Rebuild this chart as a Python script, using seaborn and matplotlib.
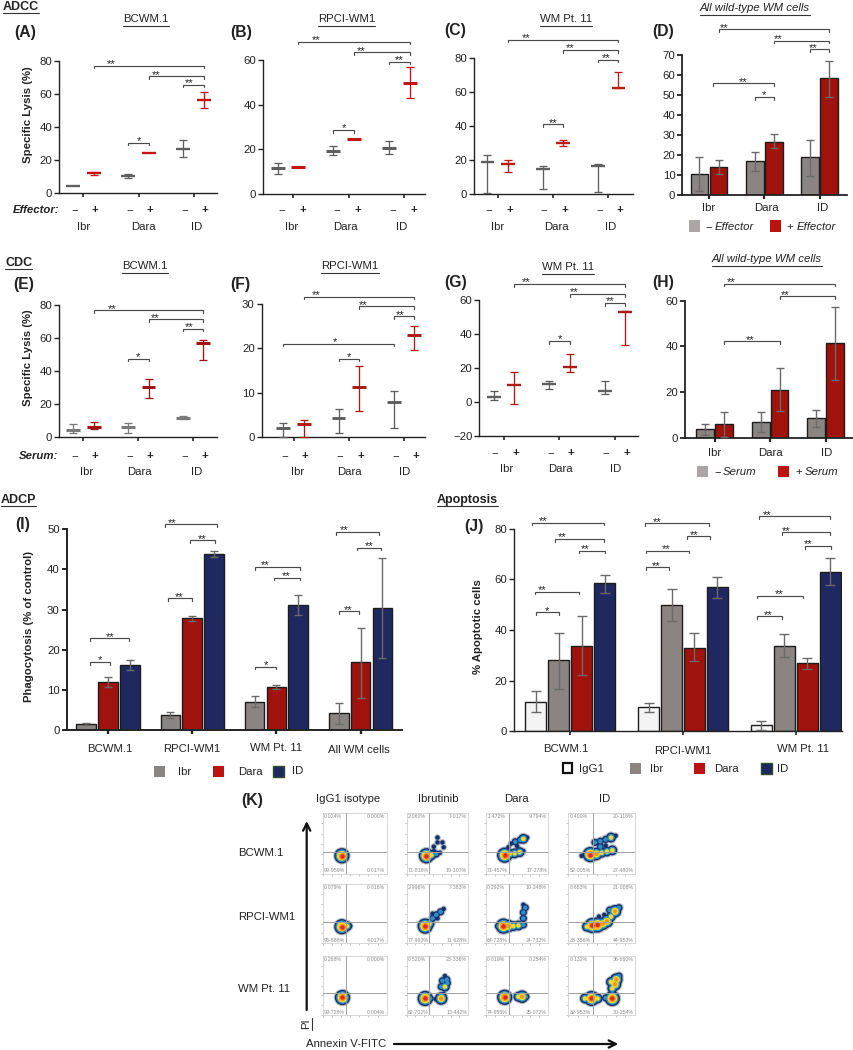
import numpy as np
import pandas as pd
import matplotlib
matplotlib.use("Agg")
import matplotlib.pyplot as plt
from matplotlib.lines import Line2D
from matplotlib.patches import Rectangle, FancyArrowPatch
import seaborn as sns

# ---------- data ----------
GROUPS = ["Ibr", "Dara", "ID"]
SIGN = ["−", "+"]

A_MEAN = [4.0, 12.1, 10.3, 24.2, 26.7, 56.0]
A_LOW = [4.0, 11.0, 9.0, 24.2, 21.8, 51.5]
A_HIGH = [4.0, 12.5, 11.5, 24.2, 32.0, 61.0]
B_MEAN = [11.4, 12.1, 19.2, 24.7, 20.5, 49.9]
B_LOW = [8.8, 12.1, 17.2, 24.7, 17.7, 43.1]
B_HIGH = [13.8, 12.1, 21.4, 24.7, 23.7, 56.7]
C_MEAN = [18.9, 17.5, 14.3, 29.7, 16.3, 62.1]
C_LOW = [0.4, 12.6, 2.9, 28.1, 1.2, 62.1]
C_HIGH = [22.6, 19.6, 16.5, 31.8, 17.7, 71.7]
D_MEAN = [10.5, 14.2, 16.9, 26.7, 18.9, 58.6]
D_LOW = [2.2, 10.5, 12.0, 23.7, 9.4, 49.1]
D_HIGH = [18.9, 17.4, 21.5, 30.4, 27.7, 67.3]
E_MEAN = [3.8, 6.0, 5.7, 30.4, 11.3, 56.7]
E_LOW = [2.4, 4.7, 2.4, 23.3, 10.5, 46.6]
E_HIGH = [7.5, 8.7, 8.5, 34.8, 12.3, 58.7]
F_MEAN = [2.2, 3.0, 4.35, 11.4, 8.0, 23.0]
F_LOW = [0.0, 0.1, 1.05, 5.9, 2.2, 19.7]
F_HIGH = [3.15, 3.8, 6.45, 16.0, 10.4, 25.1]
G_MEAN = [2.9, 9.6, 10.2, 20.6, 6.1, 53.0]
G_LOW = [1.0, -1.2, 7.5, 17.3, 4.3, 33.2]
G_HIGH = [6.3, 17.3, 12.4, 28.3, 12.4, 53.4]
H_MEAN = [3.8, 6.0, 6.8, 21.0, 8.7, 41.4]
H_LOW = [1.3, 0.4, 2.8, 11.8, 5.0, 25.3]
H_HIGH = [6.0, 11.4, 11.4, 30.6, 12.4, 57.4]

CELLS_I = ["BCWM.1", "RPCI-WM1", "WM Pt. 11", "All WM cells"]
TREAT_I = ["Ibr", "Dara", "ID"]
I_MEAN = [1.66, 12.0, 16.1, 3.7, 27.8, 43.9, 7.1, 10.7, 31.1, 4.2, 17.0, 30.4]
I_LOW = [1.3, 10.7, 15.1, 3.0, 27.2, 43.0, 5.9, 10.2, 28.6, 1.66, 8.1, 17.9]
I_HIGH = [1.75, 13.3, 17.5, 4.55, 28.5, 44.5, 8.4, 11.3, 33.7, 6.9, 25.5, 42.8]

CELLS_J = ["BCWM.1", "RPCI-WM1", "WM Pt. 11"]
TREAT_J = ["IgG1", "Ibr", "Dara", "ID"]
J_MEAN = [11.7, 28.2, 33.8, 58.4, 9.6, 49.9, 33.0, 56.8, 2.6, 33.8, 26.8, 63.0]
J_LOW = [7.5, 16.8, 22.2, 54.7, 7.6, 43.7, 27.6, 52.8, 0.5, 29.2, 24.7, 57.6]
J_HIGH = [15.8, 38.8, 45.4, 61.8, 11.3, 56.0, 38.8, 60.9, 4.2, 38.4, 28.9, 68.4]

# brackets: first mark index, last mark index, height in data units, stars, star place along bracket
A_BR = [(1, 5, 77, "**", .16), (3, 5, 70.5, "**", .13), (4, 5, 65.4, "**", .28), (2, 3, 30.4, "*", .5)]
B_BR = [(1, 5, 68.3, "**", .16), (3, 5, 63.5, "**", .12), (4, 5, 59.3, "**", .5), (2, 3, 28.6, "*", .5)]
C_BR = [(1, 5, 90.8, "**", .16), (3, 5, 84.7, "**", .12), (4, 5, 79, "**", .38), (2, 3, 41, "**", .5)]
D_BR = [(1, 5, 83, "**", .05), (3, 5, 77.3, "**", .08), (4, 5, 73, "**", .18), (.72, 3, 56, "**", .49), (2, 3, 49.1, "*", .5)]
E_BR = [(1, 5, 76.9, "**", .17), (3, 5, 71.3, "**", .13), (4, 5, 65.6, "**", .3), (2, 3, 47.4, "*", .5)]
F_BR = [(1, 5, 31.65, "**", .11), (3, 5, 29.5, "**", .07), (4, 5, 27.2, "**", .3), (0, 4, 21.1, "*", .47), (2, 3, 17.7, "*", .5)]
G_BR = [(1, 5, 69.5, "**", .11), (3, 5, 63.5, "**", .07), (4, 5, 58.3, "**", .26), (2, 3, 35.8, "*", .5)]
H_BR = [(1, 5, 67.4, "**", .06), (3, 5, 61.9, "**", .1), (1, 3, 42.2, "**", .47)]
I_BR = [(.16, 1.97, 22.9, "**", .52), (.16, 1.07, 17, "*", .52),
        (2.87, 5.07, 51.2, "**", .14), (3.89, 5.02, 47.2, "**", .48), (2.93, 4.0, 32.8, "**", .49),
        (6.04, 8.05, 40.6, "**", .22), (6.88, 8.05, 37.9, "**", .47), (6.04, 7.0, 15.8, "*", .48),
        (8.94, 10.86, 49.3, "**", .19), (9.85, 10.94, 45.4, "**", .5), (9.0, 9.94, 29.6, "**", .48)]
J_BR = [(-.16, 2.96, 82.4, "**", .15), (.83, 2.96, 76, "**", .15), (1.87, 3.0, 71.3, "**", .23),
        (-.01, 1.87, 55.1, "**", .16), (0, 1, 47, "*", .48),
        (3.92, 6.62, 82.1, "**", .19), (5.68, 6.68, 77, "**", .32), (3.95, 5.74, 71.3, "**", .46), (3.95, 4.9, 64.7, "**", .44),
        (7.95, 10.99, 84.9, "**", .12), (8.9, 10.99, 78.6, "**", .09), (9.91, 11.01, 73.2, "**", .1),
        (7.9, 9.81, 53.6, "**", .48), (7.9, 8.9, 45.4, "**", .44)]

K_COLS = ["IgG1 isotype", "Ibrutinib", "Dara", "ID"]
K_ROWS = ["BCWM.1", "RPCI-WM1", "WM Pt. 11"]
K_PCT = [
    [("0·024%", "0·000%", "99·959%", "0·017%"), ("2·060%", "7·017%", "71·816%", "19·107%"),
     ("1·472%", "9·794%", "71·457%", "17·278%"), ("0·400%", "20·116%", "52·005%", "27·480%")],
    [("0·079%", "0·016%", "95·888%", "4·017%"), ("2·996%", "7·383%", "77·993%", "11·628%"),
     ("0·292%", "10·248%", "64·728%", "24·732%"), ("0·683%", "21·008%", "33·356%", "44·953%")],
    [("0·268%", "0·000%", "99·728%", "0·004%"), ("0·520%", "23·336%", "62·702%", "13·442%"),
     ("0·019%", "0·254%", "74·655%", "25·072%"), ("0·132%", "36·660%", "32·953%", "30·254%")],
]
# density clusters: u, v, density level 1-5
K_BLOBS = [
    [[(.30, .30, 5), (.27, .28, 3)],
     [(.32, .30, 5), (.40, .31, 3), (.48, .33, 2), (.54, .35, 1), (.44, .45, 1), (.50, .52, 1), (.58, .52, 1), (.50, .60, 1), (.60, .44, 1), (.44, .38, 1)],
     [(.30, .31, 5), (.38, .33, 3), (.46, .34, 3), (.54, .36, 3), (.60, .38, 1), (.40, .50, 1), (.47, .53, 2), (.55, .56, 2), (.60, .58, 3), (.66, .60, 1), (.36, .44, 1), (.50, .46, 1)],
     [(.33, .32, 5), (.42, .33, 4), (.50, .35, 3), (.58, .37, 3), (.66, .39, 3), (.40, .52, 2), (.48, .54, 2), (.56, .57, 2), (.64, .60, 3), (.71, .63, 1), (.48, .45, 2), (.56, .47, 1), (.20, .30, 1)]],
    [[(.30, .28, 5), (.38, .29, 3), (.43, .29, 1), (.30, .2, 1)],
     [(.30, .29, 5), (.37, .33, 3), (.42, .42, 2), (.48, .48, 2), (.55, .53, 2), (.60, .58, 1), (.38, .27, 1), (.50, .42, 1), (.42, .50, 1)],
     [(.28, .29, 5), (.36, .29, 4), (.44, .29, 3), (.52, .30, 3), (.60, .31, 2), (.60, .42, 2), (.60, .52, 2), (.63, .60, 2), (.60, .65, 1), (.20, .29, 2)],
     [(.28, .28, 3), (.36, .30, 5), (.44, .31, 5), (.52, .33, 4), (.58, .37, 4), (.64, .45, 3), (.70, .54, 4), (.76, .60, 2), (.46, .45, 1), (.54, .48, 1), (.62, .56, 2), (.56, .42, 2)]],
    [[(.30, .30, 5)],
     [(.30, .28, 5), (.38, .28, 2), (.47, .27, 1), (.56, .28, 4), (.60, .36, 1), (.56, .48, 2), (.62, .48, 3), (.58, .58, 2), (.65, .60, 2), (.62, .66, 1), (.66, .54, 2)],
     [(.30, .30, 5), (.52, .31, 3), (.58, .31, 4), (.64, .31, 2)],
     [(.25, .28, 3), (.35, .28, 5), (.44, .28, 3), (.56, .29, 2), (.66, .28, 5), (.66, .45, 3), (.70, .52, 4), (.72, .60, 4), (.76, .66, 2), (.64, .56, 3)]],
]

# ---------- style ----------
W, H = 854, 1050
sns.set_theme(style="ticks")
plt.rcParams["font.family"] = ["Liberation Sans", "DejaVu Sans"]
plt.rcParams["text.color"] = "#222222"
plt.rcParams["xtick.color"] = "#222222"
plt.rcParams["ytick.color"] = "#222222"
plt.rcParams["axes.edgecolor"] = "#222222"
GREY, RED, NAVY = "#8a8583", "#a0120c", "#20295f"
FS = 8.2
HEAD = 9.0
fig = plt.figure(figsize=(W / 100, H / 100), dpi=100, facecolor="white")
renderer = fig.canvas.get_renderer()


def T(x, y, s, ha="center", va="center", size=FS, rot=0, **kw):
    return fig.text(x / W, 1 - y / H, s, ha=ha, va=va, fontsize=size, rotation=rot, **kw)


def UT(x, y, s, drop=6.5, **kw):
    t = T(x, y, s, **kw)
    bb = t.get_window_extent(renderer)
    yy = (y + drop)
    fig.add_artist(Line2D([bb.x0 / W, bb.x1 / W], [1 - yy / H, 1 - yy / H], transform=fig.transFigure,
                          color="#333333", lw=0.8))
    return t


def make_axes(left, right, top, bot, x0, step, ticks, spine_lw=1.0):
    ax = fig.add_axes([left / W, 1 - bot / H, (right - left) / W, (bot - top) / H])
    ax.patch.set_alpha(0)
    ax._fig_scale = (bot - top) / (ticks[-1] - ticks[0])
    ax._lims = ((left - x0) / step, (right - x0) / step, ticks[0], ticks[-1])
    ax._spine_lw = spine_lw
    return ax


def finish(ax, ticks, tick_pos, ylabels=None, size=FS):
    ax.set_xlim(ax._lims[0], ax._lims[1])
    ax.set_ylim(ax._lims[2], ax._lims[3])
    ax.set_yticks(ticks)
    ax.set_yticklabels(ylabels if ylabels else [str(t).replace("-", "−") for t in ticks], fontsize=size)
    ax.set_xticks(tick_pos)
    ax.set_xticklabels([])
    ax.set_xlabel("")
    ax.set_ylabel("")
    ax.tick_params(axis="y", length=3.5, width=ax._spine_lw, pad=1.5)
    ax.tick_params(axis="x", length=2.8, width=ax._spine_lw * 1.2)
    sns.despine(ax=ax)
    for side in ("left", "bottom"):
        ax.spines[side].set_linewidth(ax._spine_lw)


def brackets(ax, marks, items, drop_px=2.7):
    marks = np.asarray(marks, float)
    n = len(marks)

    def pos(i):
        k = int(np.clip(np.floor(i), 0, n - 2))
        return marks[k] + (i - k) * (marks[k + 1] - marks[k])

    d = drop_px / ax._fig_scale
    for i, j, y, star, frac in items:
        a, b = pos(i), pos(j)
        ax.plot([a, a, b, b], [y - d, y, y, y - d], color="#4a4a4a", lw=0.85, clip_on=False,
                solid_joinstyle="miter", zorder=5)
        ax.annotate(star, xy=(a + (b - a) * frac, y), xytext=(0, -1.5), textcoords="offset pixels",
                    ha="center", va="baseline", fontsize=8, color="#222222", annotation_clip=False)


def errs(ax, xs, mean, low, high, colors, cap, lw):
    for x, m, lo, hi, c in zip(xs, mean, low, high, colors):
        if lo == hi:
            continue
        ax.errorbar([x], [m], yerr=[[m - lo], [hi - m]], fmt="none", ecolor=c, elinewidth=lw, capsize=cap,
                    capthick=lw, clip_on=False, zorder=4)


def mean_panel(box, x0, step, off, ticks, mean, low, high, reds, items, group_x, label_y, pm_y, pm_shift=1.5,
               tick_shift=0, mean_lw=1.8, grey="#5f5f5f"):
    left, right, top, bot = box
    ax = make_axes(left, right, top, bot, x0, step, ticks)
    o = off / step
    xs = [g + s * o for g in range(3) for s in (-1, 1)]
    df = pd.DataFrame({"x": xs, "y": mean, "kind": ["−", "+"] * 3})
    sns.scatterplot(data=df, x="x", y="y", hue="kind", palette={"−": grey, "+": reds}, marker="_", s=100,
                    linewidth=mean_lw, legend=False, ax=ax, clip_on=False, zorder=5)
    errs(ax, xs, mean, low, high, [grey, reds] * 3, 2.6, 0.95)
    finish(ax, ticks, [g + tick_shift / step for g in range(3)])
    brackets(ax, xs, items)
    for i, x in enumerate(xs):
        T(x0 + x * step + pm_shift, pm_y, SIGN[i % 2], weight="bold" if i % 2 else "normal")
    for g, gx in zip(GROUPS, group_x):
        T(gx, label_y, g)
    return ax


def bar_panel(box, x0, step, ticks, cats, treats, mean, low, high, palette, width, gap, items, cap=3.0, elw=1.0,
              spine_lw=1.3, edge="#1c1c1c"):
    left, right, top, bot = box
    ax = make_axes(left, right, top, bot, x0, step, ticks, spine_lw)
    n_t = len(treats)
    df = pd.DataFrame({"cell": [c for c in cats for _ in treats], "treat": list(treats) * len(cats), "v": mean})
    sns.barplot(data=df, x="cell", y="v", hue="treat", order=cats, hue_order=treats, palette=palette, width=width,
                gap=gap, errorbar=None, edgecolor=edge, linewidth=1.0, legend=False, ax=ax, zorder=2, saturation=1)
    centres = np.zeros(len(mean))
    for h, cont in enumerate(ax.containers):
        for g, patch in enumerate(cont.patches):
            centres[g * n_t + h] = patch.get_x() + patch.get_width() / 2
    errs(ax, centres, mean, low, high, ["#6a6a6a"] * len(mean), cap, elw)
    finish(ax, ticks, list(range(len(cats))))
    brackets(ax, centres, items)
    return ax


def square(cx, cy, color, size=11, edge=None, lw=0):
    fig.add_artist(Rectangle(((cx - size / 2) / W, 1 - (cy + size / 2) / H), size / W, size / H,
                             transform=fig.transFigure, facecolor=color, edgecolor=edge or color, linewidth=lw))


# ---------- ADCC ----------
UT(3, 7, "ADCC", ha="left", weight="bold", size=HEAD, drop=5.5)
T(25, 33, "(A)", weight="bold", size=11.3)
UT(146, 19, "BCWM.1")
mean_panel((59, 217, 60.7, 192.7), 83.5, 55, 10.3, [0, 20, 40, 60, 80], A_MEAN, A_LOW, A_HIGH, "#c41414", A_BR,
           [84, 143, 197], 227, 210, mean_lw=1.7)
T(28, 115, "Specific Lysis (%)", rot=90, weight="bold")
T(13, 210, "Effector:", ha="left", weight="bold", style="italic")

T(240.7, 32, "(B)", weight="bold", size=11.3)
UT(346.7, 19, "RPCI-WM1")
mean_panel((263.3, 425, 60, 193.7), 288, 55.6, 10.4, [0, 20, 40, 60], B_MEAN, B_LOW, B_HIGH, "#c41414", B_BR,
           [291.7, 345.7, 401.7], 227, 210, pm_shift=4, tick_shift=5, mean_lw=2.2)

T(455, 31, "(C)", weight="bold", size=11.3)
UT(565.7, 19, "WM Pt. 11")
mean_panel((474, 633, 58, 193.7), 497.8, 55.2, 10.3, [0, 20, 40, 60, 80], C_MEAN, C_LOW, C_HIGH, "#bb1c14", C_BR,
           [497.7, 556, 611], 227, 210, mean_lw=1.7)

T(662.7, 31.7, "(D)", weight="bold", size=11.3)
UT(755, 8, "All wild-type WM cells", style="italic")
two_pal = {"−": GREY, "+": RED}
bar_panel((682.3, 846.7, 55.3, 195), 709, 55.33, [0, 10, 20, 30, 40, 50, 60, 70], GROUPS, ["−", "+"],
          D_MEAN, D_LOW, D_HIGH, two_pal, .687, .07, D_BR)
for g, x in zip(GROUPS, [709, 766, 823]):
    T(x, 208, g)
square(694.7, 226, "#aaa6a5")
T(705, 226.7, "−", ha="left")
T(715, 226.7, "Effector", ha="left", style="italic")
square(775.7, 226, "#bb1410")
T(786.7, 226.7, "+", ha="left")
T(796.7, 226.7, "Effector", ha="left", style="italic")

# ---------- CDC ----------
UT(5, 263, "CDC", ha="left", weight="bold", size=HEAD, drop=5.5)
T(24, 284, "(E)", weight="bold", size=11.3)
UT(145, 266, "BCWM.1")
mean_panel((59, 217, 305, 436.7), 83.3, 54.9, 10.3, [0, 20, 40, 60, 80], E_MEAN, E_LOW, E_HIGH, "#a01414", E_BR,
           [87, 139, 197], 472, 456, mean_lw=2.2, grey="#7a7a7a")
T(28, 358, "Specific Lysis (%)", rot=90, weight="bold")
T(19, 456, "Serum:", ha="left", weight="bold", style="italic")

T(240, 284, "(F)", weight="bold", size=11.3)
UT(350, 266, "RPCI-WM1")
mean_panel((261.7, 425, 304, 437.3), 293.5, 55.3, 10.3, [0, 10, 20, 30], F_MEAN, F_LOW, F_HIGH, "#ac1a14", F_BR,
           [298, 349, 405], 472, 456, mean_lw=2.1, pm_shift=1.5)

T(455.7, 283, "(G)", weight="bold", size=11.3)
UT(568, 267, "WM Pt. 11")
mean_panel((479.3, 638.3, 300, 435.7), 504, 55.5, 10.3, [-20, 0, 20, 40, 60], G_MEAN, G_LOW, G_HIGH, "#a81c14", G_BR,
           [506.7, 560, 616], 469, 453, mean_lw=1.7)

T(662.7, 283, "(H)", weight="bold", size=11.3)
UT(767, 259, "All wild-type WM cells", style="italic")
bar_panel((685, 854, 300.7, 438), 714.7, 55.5, [0, 20, 40, 60], GROUPS, ["−", "+"],
          H_MEAN, H_LOW, H_HIGH, two_pal, .673, .05, H_BR)
for g, x in zip(GROUPS, [715, 770.7, 826.7]):
    T(x, 452.7, g)
square(702.7, 471.7, "#aaa6a5")
T(714, 472, "−", ha="left")
T(723, 472, "Serum", ha="left", style="italic")
square(784, 471.7, "#bb1410")
T(795.7, 472, "+", ha="left")
T(805, 472, "Serum", ha="left", style="italic")

# ---------- ADCP ----------
UT(1, 500, "ADCP", ha="left", weight="bold", size=HEAD, drop=5.5)
T(23, 525, "(I)", weight="bold", size=11.3)
bar_panel((66.7, 402, 529, 730.3), 108, 84.2, [0, 10, 20, 30, 40, 50], CELLS_I, TREAT_I,
          I_MEAN, I_LOW, I_HIGH, {"Ibr": GREY, "Dara": RED, "ID": NAVY}, .778, .1, I_BR, cap=3.2, spine_lw=1.4)
T(29, 626.7, "Phagocytosis (% of control)", rot=90, weight="bold")
for g, x, y in zip(CELLS_I, [110, 192, 276, 359], [749, 749, 748, 750]):
    T(x, y, g)
square(160, 771, GREY)
T(185, 772, "Ibr")
square(219, 771, "#bb1410")
T(250, 772, "Dara")
square(278, 771, NAVY, edge="#2c4a2c", lw=1)
T(298, 771, "ID")

# ---------- Apoptosis ----------
UT(437, 500, "Apoptosis", ha="left", weight="bold", size=HEAD, drop=5.5)
T(474, 526, "(J)", weight="bold", size=11.3)
bar_panel((514.3, 842.3, 528.7, 731.3), 570.2, 112.8, [0, 20, 40, 60, 80], CELLS_J, TREAT_J,
          J_MEAN, J_LOW, J_HIGH, {"IgG1": "#f4f4f4", "Ibr": GREY, "Dara": RED, "ID": NAVY}, .815, .08, J_BR, cap=3.8,
          spine_lw=1.0)
T(478.3, 626.7, "% Apoptotic cells", rot=90, weight="bold")
for g, x, y in zip(CELLS_J, [565.7, 682.3, 802.7], [749, 750.5, 749]):
    T(x, y, g)
square(567.7, 768, "white", size=9.5, edge="#111111", lw=1.6)
T(591.7, 768.5, "IgG1")
square(635.7, 768, GREY)
T(656.7, 768.5, "Ibr")
square(700, 768, "#bb1410")
T(726, 768.5, "Dara")
square(766.7, 768, NAVY, edge="#2c4a2c", lw=1)
T(783, 768.5, "ID")

# ---------- (K) flow plots ----------
T(251.7, 800.7, "(K)", weight="bold", size=11.3)
COL_X = [(322.7, 386.7), (406.7, 468.3), (486, 548.3), (568.3, 635)]
ROW_Y = [(813.3, 874), (884, 943.3), (956, 1015)]
RINGS = ["#b4bfc5", "#16306e", "#2f8fc8", "#f2dc2a", "#f59a20", "#e5281e"]
for name, x in zip(K_COLS, [348.3, 438.3, 516.7, 604.3]):
    T(x, 799, name)
for name, y in zip(K_ROWS, [852.7, 916.7, 989.3]):
    T(237.7, y, name, ha="left")
for r, (y0, y1) in enumerate(ROW_Y):
    for c, (x0, x1) in enumerate(COL_X):
        ax = fig.add_axes([x0 / W, 1 - y1 / H, (x1 - x0) / W, (y1 - y0) / H])
        blobs = pd.DataFrame(K_BLOBS[r][c], columns=["u", "v", "lev"])
        for k, col in enumerate(RINGS):
            sub = blobs[blobs["lev"] >= max(k, 1)]
            rad = (sub["lev"] - max(k, 1) + 1) * 1.35 + (2.0 if k == 0 else 0.9)
            sns.scatterplot(x=sub["u"].to_numpy(), y=sub["v"].to_numpy(), s=((rad * 2 * .72) ** 2).to_numpy(),
                            color=col, linewidth=0, ax=ax, legend=False, zorder=2 + k)
        ax.axvline(.37, color="#a0a0a0", lw=0.7, zorder=10)
        ax.axhline(.365, color="#a0a0a0", lw=0.7, zorder=10)
        ax.set_xlim(0, 1)
        ax.set_ylim(0, 1)
        ax.set_xticks(np.linspace(0, 1, 8)[:-1])
        ax.set_yticks(np.linspace(0, 1, 7)[:-1])
        ax.set_xticklabels([])
        ax.set_yticklabels([])
        ax.tick_params(length=1.2, width=0.4, color="#999999", pad=0)
        for s in ax.spines.values():
            s.set_color("#d0d0d0")
            s.set_linewidth(0.6)
        tl, tr, bl, br = K_PCT[r][c]
        kw = dict(fontsize=3.8, color="#8a8a8a", transform=ax.transAxes, zorder=11, va="center")
        ax.text(.02, .94, tl, ha="left", **kw)
        ax.text(.98, .94, tr, ha="right", **kw)
        ax.text(.02, .05, bl, ha="left", **kw)
        ax.text(.98, .05, br, ha="right", **kw)

fig.add_artist(FancyArrowPatch((306.7 / W, 1 - 1010 / H), (306.7 / W, 1 - 821 / H), transform=fig.transFigure,
                               arrowstyle="->", mutation_scale=13, lw=1.6, color="#111111", shrinkA=0, shrinkB=0))
fig.add_artist(FancyArrowPatch((394 / W, 1 - 1044 / H), (618.3 / W, 1 - 1044 / H), transform=fig.transFigure,
                               arrowstyle="->", mutation_scale=13, lw=1.6, color="#111111", shrinkA=0, shrinkB=0))
T(306, 1024, "PI", rot=90)
fig.add_artist(Line2D([312 / W, 312 / W], [1 - 1030 / H, 1 - 1018 / H], transform=fig.transFigure, color="#333", lw=0.8))
T(306, 1044, "Annexin V-FITC", ha="left")

fig.savefig("out.png", dpi=100, facecolor="white")
